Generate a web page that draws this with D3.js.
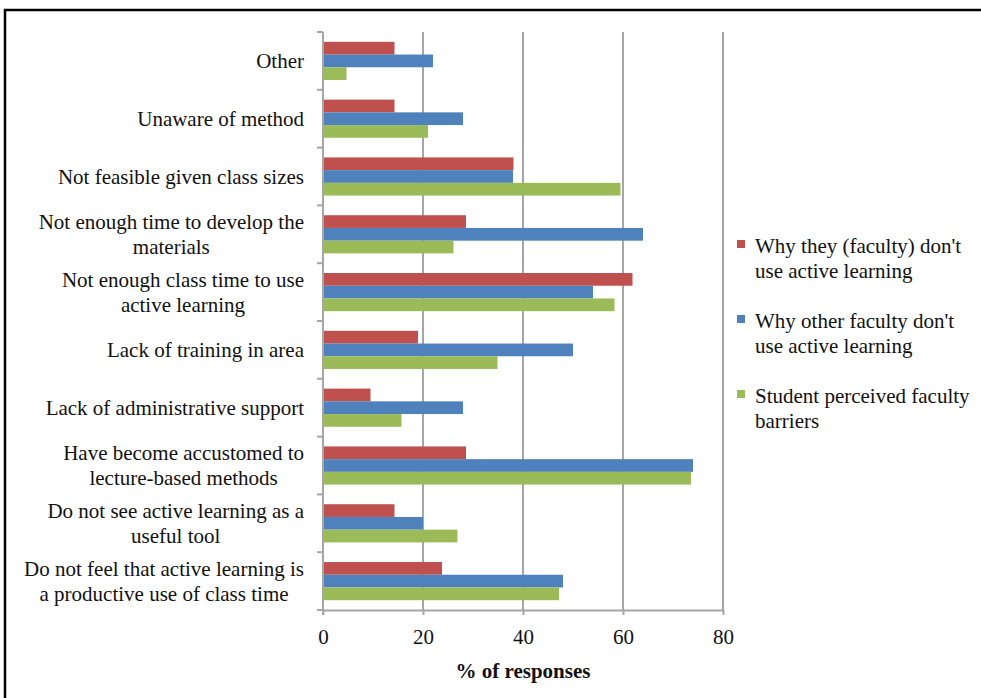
<!DOCTYPE html>
<html>
<head>
<meta charset="utf-8">
<script src="https://cdn.jsdelivr.net/npm/d3@7/dist/d3.min.js"></script>
<style>
  html, body { margin: 0; padding: 0; background: #fff; }
  svg { display: block; }
  text { font-family: "Liberation Serif", "Times New Roman", serif; fill: #111; }
</style>
</head>
<body>
<svg id="chart" width="981" height="698"></svg>
<script>
// Barrier categories, listed top to bottom; "\n" splits a label over two lines
const categories = [
  "Other",
  "Unaware of method",
  "Not feasible given class sizes",
  "Not enough time to develop the\nmaterials",
  "Not enough class time to use\nactive learning",
  "Lack of training in area",
  "Lack of administrative support",
  "Have become accustomed to\nlecture-based methods",
  "Do not see active learning as a\nuseful tool",
  "Do not feel that active learning is\na productive use of class time"
];

// Series names as shown in the legend
const seriesNames = [
  "Why they (faculty) don't\nuse active learning",
  "Why other faculty don't\nuse active learning",
  "Student perceived faculty\nbarriers"
];

// % of responses per category (same order as categories)
const facultySelf   = [14.3, 14.3, 38.1, 28.6, 61.9, 19.0, 9.5, 28.6, 14.3, 23.8];
const facultyOthers = [22, 28, 38, 64, 54, 50, 28, 74, 20, 48];
const studentView   = [4.7, 21, 59.5, 26.1, 58.3, 34.9, 15.7, 73.6, 26.9, 47.2];

const xTicks = [0, 20, 40, 60, 80];
const seriesColors = ["#C0504D", "#4F81BD", "#9BBB59"];

const seriesValues = [facultySelf, facultyOthers, studentView];
const svg = d3.select("#chart");

// outer frame
svg.append("rect")
  .attr("x", 5).attr("y", 10)
  .attr("width", 1000).attr("height", 720)
  .attr("fill", "none").attr("stroke", "#000").attr("stroke-width", 2.5);

const plot = { left: 323, right: 723, top: 32, bottom: 610 };

const x = d3.scaleLinear().domain([0, 80]).range([plot.left, plot.right]);
const y = d3.scaleBand().domain(categories).range([plot.top, plot.bottom])
  .paddingInner(0.34).paddingOuter(0.17);
const ySeries = d3.scaleBand().domain(d3.range(seriesNames.length)).range([0, y.bandwidth()]);

const gridColor = "#a6a6a6";

// vertical gridlines
svg.append("g").selectAll("line")
  .data(xTicks.filter(t => t > 0))
  .join("line")
  .attr("x1", d => x(d)).attr("x2", d => x(d))
  .attr("y1", plot.top).attr("y2", plot.bottom)
  .attr("stroke", gridColor).attr("stroke-width", 2);

// bars
const rows = categories.map((c, i) => ({ c, vals: seriesValues.map(s => s[i]) }));
const groups = svg.append("g").selectAll("g")
  .data(rows)
  .join("g")
  .attr("transform", d => `translate(0,${y(d.c)})`);
groups.selectAll("rect")
  .data(d => d.vals.map((v, k) => ({ v, k })))
  .join("rect")
  .attr("x", x(0))
  .attr("y", d => ySeries(d.k))
  .attr("width", d => x(d.v) - x(0))
  .attr("height", ySeries.bandwidth())
  .attr("fill", d => seriesColors[d.k]);

// x axis
const xAxis = svg.append("g")
  .attr("transform", `translate(0,${plot.bottom})`)
  .call(d3.axisBottom(x).tickValues(xTicks).tickSize(5).tickPadding(14).tickSizeOuter(0));
xAxis.select(".domain").attr("stroke", gridColor).attr("stroke-width", 2);
xAxis.selectAll(".tick line").attr("stroke", gridColor).attr("stroke-width", 2);
xAxis.selectAll(".tick text")
  .attr("font-size", 21).attr("font-family", "Liberation Serif, serif").attr("fill", "#111");

// y axis line and band-boundary ticks
svg.append("line")
  .attr("x1", plot.left).attr("x2", plot.left)
  .attr("y1", plot.top).attr("y2", plot.bottom + 5)
  .attr("stroke", gridColor).attr("stroke-width", 2);
svg.append("g").selectAll("line")
  .data(d3.range(categories.length + 1).map(i => plot.top + i * y.step()))
  .join("line")
  .attr("x1", plot.left - 6).attr("x2", plot.left)
  .attr("y1", d => d).attr("y2", d => d)
  .attr("stroke", gridColor).attr("stroke-width", 2);

// category labels: centred lines, block right-aligned against the axis
const lineH = 25;
categories.forEach(c => {
  const lines = c.split("\n");
  const cy = y(c) + y.bandwidth() / 2;
  const t = svg.append("text")
    .attr("font-size", 21)
    .attr("text-anchor", "middle");
  lines.forEach((ln, i) => {
    t.append("tspan")
      .attr("y", cy + (i - (lines.length - 1) / 2) * lineH + 7)
      .text(ln);
  });
  let maxW = 0;
  t.selectAll("tspan").each(function () { maxW = Math.max(maxW, this.getComputedTextLength()); });
  t.selectAll("tspan").attr("x", 304 - maxW / 2);
});

// axis title
svg.append("text")
  .attr("x", (plot.left + plot.right) / 2).attr("y", 678)
  .attr("text-anchor", "middle")
  .attr("font-size", 21).attr("font-weight", "bold")
  .text("% of responses");

// legend
const legend = svg.append("g");
seriesNames.forEach((name, k) => {
  const top = 246 + k * 75;
  legend.append("rect")
    .attr("x", 737).attr("y", top - 6)
    .attr("width", 8).attr("height", 8)
    .attr("fill", seriesColors[k]);
  const t = legend.append("text").attr("font-size", 21);
  name.split("\n").forEach((ln, i) => {
    t.append("tspan").attr("x", 755).attr("y", top + 7 + i * lineH).text(ln);
  });
});
</script>
</body>
</html>
